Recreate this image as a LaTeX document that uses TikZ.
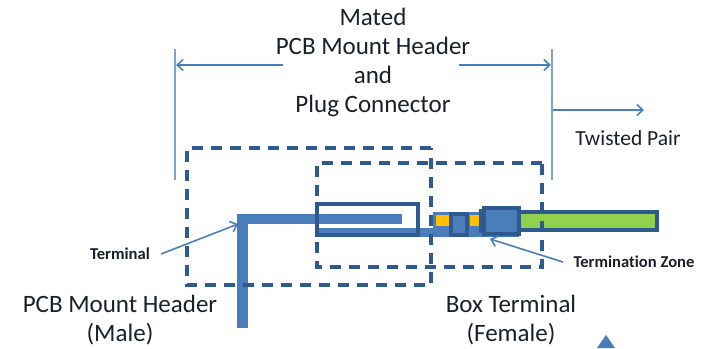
\documentclass[tikz,border=0pt]{standalone}
\usepackage{fontspec}
\setmainfont[Ligatures=NoCommon]{Carlito}
\usetikzlibrary{arrows.meta}
\definecolor{dashblue}{HTML}{2F5A8F}
\definecolor{midblue}{HTML}{4A7EBB}
\definecolor{thinblue}{HTML}{7DA3D0}
\definecolor{leadgreen}{HTML}{92D050}
\definecolor{gold}{HTML}{FFC000}
\definecolor{ink}{HTML}{1A1F2B}
\tikzset{
  x=1pt,y=-1pt,
  bigtext/.style={font=\fontsize{25}{29}\selectfont,text=ink,align=center,inner sep=0pt},
  midtext/.style={font=\fontsize{21.5}{29}\selectfont,text=ink,align=center,inner sep=0pt},
  smalltext/.style={font=\fontsize{16.6}{20}\selectfont\bfseries,text=ink,inner sep=0pt},
  dashbox/.style={draw=dashblue,line width=3.6pt,dash pattern=on 11pt off 8pt},
  pointer/.style={draw=midblue,line width=1.6pt,-{Straight Barb[length=6pt,width=11pt,line width=1.6pt]}},
  guide/.style={draw=thinblue,line width=1.5pt},
  pin/.style={fill=midblue,draw=none},
  partbox/.style={draw=dashblue,line width=3.4pt},
}
\begin{document}
\begin{tikzpicture}
\useasboundingbox (0,0) rectangle (706,348);
% terminal
\fill[pin] (237,214) rectangle (402,224);
\fill[pin] (237,214) rectangle (248,328);
\fill[pin] (317,228) rectangle (519,237);
\fill[pin] (433,212) rectangle (519,237);
\fill[gold] (436,215) rectangle (449,226);
\fill[gold] (470,215) rectangle (481,226);
% wire
\draw[partbox,fill=leadgreen] (519,212) rectangle (657,230);
\draw[partbox,fill=midblue] (451,214) rectangle (467,235);
\draw[partbox,fill=midblue] (481,211) rectangle (490,231);
\draw[partbox,fill=midblue] (484,208) rectangle (519,234);
\draw[partbox] (317,204) rectangle (418,235);
% dashed outlines
\draw[dashbox] (431,148) -- (187,148) -- (187,285) -- (431,285) -- cycle;
\draw[dashbox] (542,163) -- (317,163) -- (317,267) -- (542,267) -- cycle;
% texts
\node[bigtext] (title) at (373,62) {Mated\\PCB Mount Header\\and\\Plug Connector};
\node[midtext] (twisted) at (628,138) {Twisted Pair};
\node[bigtext] (male) at (120,320) {PCB Mount Header\\(Male)};
\node[bigtext] (female) at (511,320) {Box Terminal\\(Female)};
\node[smalltext] (terminal) at (120,254) {Terminal};
\node[smalltext] (zone) at (634,262) {Termination Zone};
% guides and arrows
\coordinate (ltop) at (175,49);
\coordinate (lbot) at (175,180);
\coordinate (rtop) at (552,49);
\coordinate (rbot) at (552,180);
\draw[guide] (ltop) -- (lbot);
\draw[guide] (rtop) -- (rbot);
\coordinate (a1) at (283,65);
\coordinate (a2) at (176,65);
\coordinate (b1) at (459,65);
\coordinate (b2) at (551,65);
\coordinate (c1) at (553,110);
\coordinate (c2) at (644,110);
\coordinate (t1) at (161,254);
\coordinate (t2) at (238,224);
\coordinate (z1) at (563,262);
\coordinate (z2) at (490,239);
\draw[pointer] (a1) -- (a2);
\draw[pointer] (b1) -- (b2);
\draw[pointer] (c1) -- (c2);
\draw[pointer] (t1) -- (t2);
\draw[pointer] (z1) -- (z2);
% partial triangle at the bottom edge
\fill[midblue] (606,335) -- (615,348) -- (597,348) -- cycle;
\end{tikzpicture}
\end{document}
